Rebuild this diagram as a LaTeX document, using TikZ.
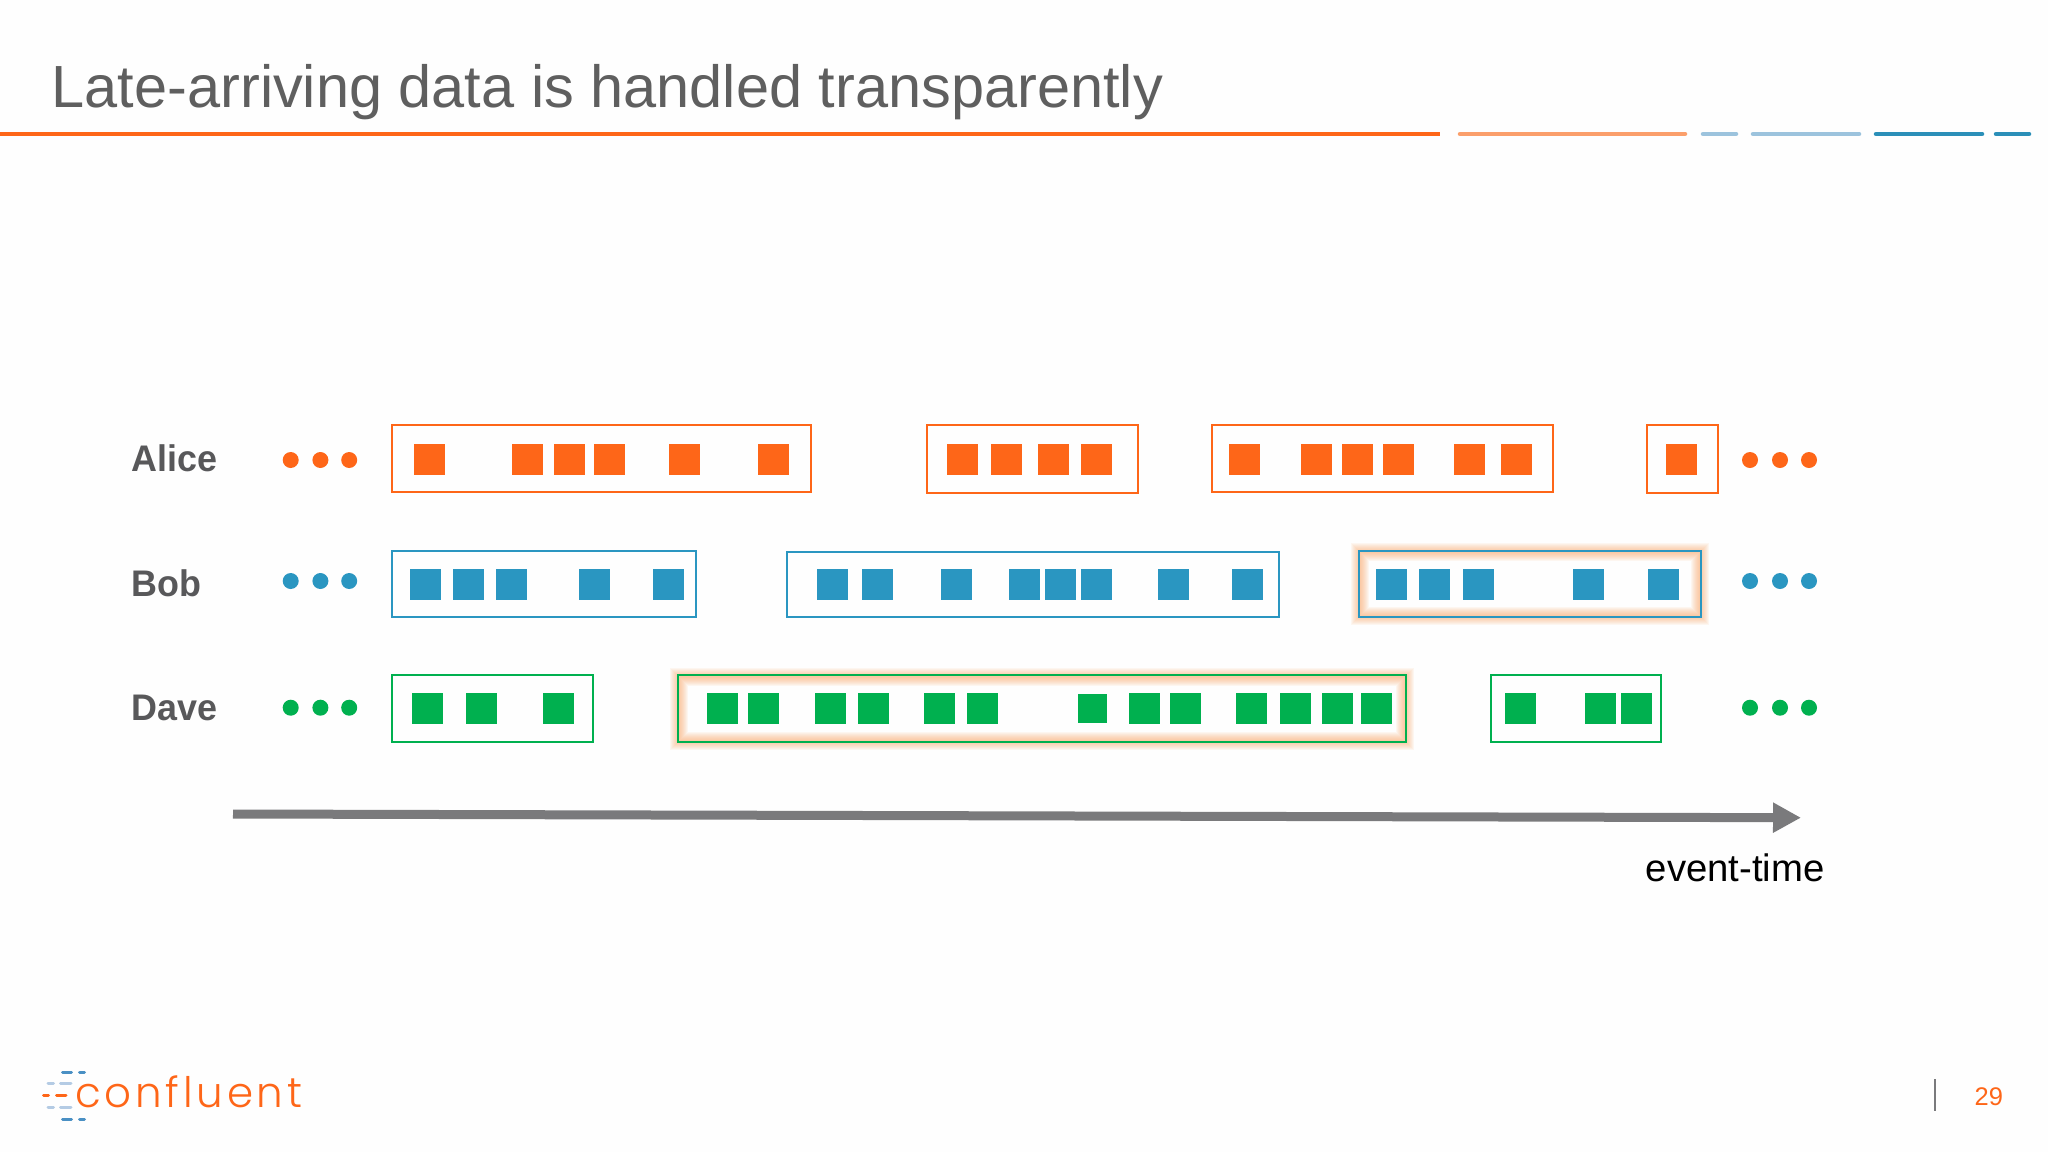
\documentclass[tikz,border=0pt]{standalone}
\usepackage{fontspec}
\usetikzlibrary{arrows.meta}
\setmainfont{Liberation Sans}
\newfontfamily\namefont[FakeStretch=0.97]{Liberation Sans}
\newfontfamily\logofont[UprightFont=* Light,LetterSpace=9]{Poppins}
\definecolor{cfor}{HTML}{FE6618}
\definecolor{cfbl}{HTML}{2A96C1}
\definecolor{cfgr}{HTML}{00B04F}
\definecolor{glowc}{HTML}{FBA566}
\definecolor{txtg}{HTML}{58585A}
\definecolor{ttlg}{HTML}{5F5F5F}
\definecolor{arrg}{HTML}{7A7A7C}
\definecolor{lor}{HTML}{FB9F6B}
\definecolor{lbl}{HTML}{9CC3DD}
\definecolor{dbl}{HTML}{2B8FB8}
\definecolor{logobl}{HTML}{4A90C4}
\definecolor{logolt}{HTML}{B4CBE4}
\newcommand{\squares}[3]{\foreach \xx in {#3} {\fill[#1] (\xx,#2) rectangle ++(31,31);}}
\newcommand{\threedots}[5]{\foreach \xx in {#3,#4,#5} {\fill[#1] (\xx,#2) circle[radius=8];}}
\newcommand{\glowbox}[4]{%
  \foreach \ww in {18,16,14,12,10,8,6,4,2} {\draw[glowc,opacity=.085,line width=\ww pt] (#1+1.2,#2+1.2) rectangle (#3-1.2,#4-1.2);}}
\tikzset{
  winbox/.style={line width=2pt,draw=#1,fill=none},
  rule/.style={line width=4.5pt,line cap=round},
  person/.style={anchor=base west,inner sep=0pt,text=txtg,font=\fontsize{37}{37}\namefont\bfseries},
  logodash/.style={line width=3pt,line cap=round}
}
\begin{document}
\begin{tikzpicture}[x=1pt,y=-1pt]
\useasboundingbox (0,0) rectangle (2048,1152);
\fill[white!99.5!black] (0,0) rectangle (2048,1152);
% title
\node[anchor=base west,inner sep=0pt,text=ttlg,font=\fontsize{59.5}{60}\selectfont] (title) at (51.5,107.7) {Late-arriving data is handled transparently};
\draw[line width=4.5pt,cfor] (0,134) -- (1440,134);
\draw[rule,lor] (1460,134) -- (1685,134);
\draw[rule,lbl] (1703,134) -- (1736,134);
\draw[rule,lbl] (1753,134) -- (1859,134);
\draw[rule,dbl] (1876,134) -- (1982,134);
\draw[rule,dbl] (1996,134) -- (2029,134);
% labels
\node[person] (alice) at (131,471.7) {Alice};
\node[person] (bob) at (131,596.7) {Bob};
\node[person] (dave) at (131,720.7) {Dave};
% dots
\threedots{cfor}{460}{290.7}{320.4}{349.2}
\threedots{cfbl}{581}{290.7}{320.4}{349.2}
\threedots{cfgr}{707.7}{290.7}{320.4}{349.2}
\threedots{cfor}{460}{1750}{1780}{1809}
\threedots{cfbl}{581}{1750}{1780}{1809}
\threedots{cfgr}{707.7}{1750}{1780}{1809}
% glow
\glowbox{1359}{551}{1701}{617}
\glowbox{678}{675.3}{1406}{742}
% Alice
\draw[winbox=cfor] (392,425.3) rectangle (811,492.3);
\squares{cfor}{443.7}{413.8,512,553.5,594,668.7,758.3}
\draw[winbox=cfor] (926.9,424.7) rectangle (1138.4,493);
\squares{cfor}{443.7}{946.5,991.4,1038,1080.8}
\draw[winbox=cfor] (1211.6,425.3) rectangle (1552.5,492.3);
\squares{cfor}{443.7}{1228.6,1301,1341.8,1382.7,1453.8,1501.4}
\draw[winbox=cfor] (1646.5,424.7) rectangle (1718,493);
\squares{cfor}{443.7}{1666}
% Bob
\draw[winbox=cfbl] (392,551.3) rectangle (695.8,617.3);
\squares{cfbl}{569}{409.6,452.5,495.5,579,652.6}
\draw[winbox=cfbl] (787.4,551.7) rectangle (1279,617);
\squares{cfbl}{569}{817.4,862,941.2,1008.6,1044.5,1081,1157.5,1232}
\draw[winbox=cfbl] (1359,551) rectangle (1701,617);
\squares{cfbl}{569}{1375.5,1419,1463,1573,1647.5}
% Dave
\draw[winbox=cfgr] (392,675.3) rectangle (593,742);
\squares{cfgr}{693.3}{412,465.5,543.3}
\draw[winbox=cfgr] (678,675.3) rectangle (1406,742);
\squares{cfgr}{693.3}{706.8,747.8,814.7,858,923.7,967.3,1129,1169.8,1235.5,1279.6,1321.6,1360.8}
\fill[cfgr] (1078,694.3) rectangle ++(29,29);
\draw[winbox=cfgr] (1491,675) rectangle (1660.7,742);
\squares{cfgr}{693.3}{1504.5,1585,1621.3}
% axis
\coordinate (axisstart) at (233,814);
\coordinate (axisend) at (1801,817.7);
\draw[arrg,line width=9pt,-{Triangle[length=28pt,width=28.4pt]}] (axisstart) -- (axisend);
\node[anchor=base west,inner sep=0pt,text=black,font=\fontsize{38.3}{39}\selectfont] (axislabel) at (1645.5,881.3) {event-time};
% logo
\foreach \yy in {1072.3,1119} {
  \draw[logodash,logobl] (62.5,\yy) -- (71.5,\yy);
  \draw[logodash,logobl] (79.5,\yy) -- (84.5,\yy);}
\foreach \yy in {1083.7,1107.3} {
  \draw[logodash,logolt] (48,\yy) -- (53.5,\yy);
  \draw[logodash,logolt] (60.5,\yy) -- (71,\yy);}
\draw[logodash,cfor] (43.5,1095.3) -- (48.5,1095.3);
\draw[logodash,cfor] (56.5,1095.3) -- (66,1095.3);
\node[anchor=base west,inner sep=0pt,text=cfor,font=\fontsize{42}{42}\logofont] (logo) at (75,1107.5) {confluent};
% footer
\coordinate (septop) at (1935.3,1079.3);
\coordinate (sepbot) at (1935.3,1111);
\draw[arrg,line width=2pt] (septop) -- (sepbot);
\node[anchor=base west,inner sep=0pt,text=cfor,font=\fontsize{25.5}{26}\selectfont] (pagenum) at (1974.5,1105.3) {29};
\end{tikzpicture}
\end{document}
